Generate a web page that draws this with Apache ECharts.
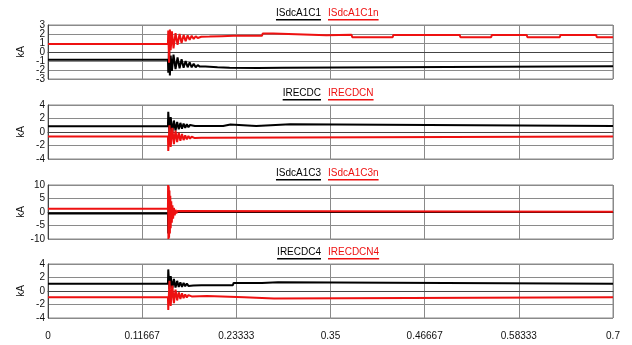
<!DOCTYPE html>
<html>
<head>
<meta charset="utf-8">
<script src="https://cdn.jsdelivr.net/npm/echarts@6/dist/echarts.min.js"></script>
<style>
  html, body { margin: 0; padding: 0; background: #fff; }
  #chart { width: 632px; height: 345px; }
</style>
</head>
<body>
<div id="chart"></div>
<script>
// Time axis (s) and its tick labels
const xMax = 0.7;
const xTickLabels = ['0', '0.11667', '0.23333', '0.35', '0.46667', '0.58333', '0.7'];

// Panel 1: ISdcA1C1 / ISdcA1C1n  [t, kA]
const ISdcA1C1 = [
  [0, -0.85], [0.1486, -0.85], [0.149, -2.3], [0.150, 0.4], [0.151, -2.6], [0.152, -0.4],
  [0.1535, -2.1], [0.1555, -0.3], [0.158, -1.9], [0.1605, -0.6], [0.163, -1.8], [0.1655, -0.8],
  [0.168, -1.75], [0.1705, -1.0], [0.173, -1.7], [0.1755, -1.15], [0.178, -1.7], [0.1805, -1.3],
  [0.183, -1.7], [0.1855, -1.45], [0.188, -1.62], [0.195, -1.6], [0.21, -1.7], [0.225, -1.75],
  [0.26, -1.77], [0.29, -1.75], [0.291, -1.57], [0.7, -1.57]
];
const ISdcA1C1n = [
  [0, 0.9], [0.1486, 0.9], [0.149, 2.4], [0.150, -1.2], [0.151, 2.5], [0.152, 0.2],
  [0.1535, 2.3], [0.1555, 0.4], [0.158, 2.1], [0.1605, 0.8], [0.163, 2.0], [0.1655, 1.0],
  [0.168, 1.9], [0.1705, 1.2], [0.173, 1.85], [0.1755, 1.35], [0.178, 1.8], [0.1805, 1.45],
  [0.183, 1.75], [0.1855, 1.55], [0.19, 1.7], [0.2, 1.72], [0.215, 1.76], [0.23, 1.8],
  [0.265, 1.8], [0.266, 2.05], [0.279, 2.05], [0.28, 1.85], [0.345, 1.85], [0.346, 1.92],
  [0.376, 1.92], [0.377, 1.65], [0.427, 1.65], [0.428, 1.9], [0.510, 1.9], [0.511, 1.65],
  [0.549, 1.65], [0.550, 1.9], [0.593, 1.9], [0.594, 1.65], [0.634, 1.65], [0.635, 1.9],
  [0.679, 1.9], [0.680, 1.65], [0.7, 1.65]
];

// Panel 2: IRECDC / IRECDCN
const IRECDC = [
  [0, 0.85], [0.1486, 0.85], [0.149, 3.0], [0.1505, -0.2], [0.152, 2.2], [0.154, 0.0],
  [0.156, 1.7], [0.158, 0.2], [0.160, 1.5], [0.162, 0.4], [0.164, 1.35], [0.166, 0.5],
  [0.168, 1.25], [0.170, 0.6], [0.172, 1.15], [0.174, 0.7], [0.176, 1.05], [0.178, 0.8],
  [0.182, 0.9], [0.217, 0.88], [0.218, 1.1], [0.226, 1.1], [0.227, 0.88], [0.258, 0.88],
  [0.259, 1.15], [0.30, 1.15], [0.301, 0.88], [0.7, 0.88]
];
const IRECDCN = [
  [0, -0.65], [0.1486, -0.65], [0.149, -2.8], [0.1505, 1.0], [0.152, -2.2], [0.154, 0.6],
  [0.156, -1.8], [0.158, 0.2], [0.160, -1.5], [0.162, -0.1], [0.164, -1.3], [0.166, -0.3],
  [0.168, -1.2], [0.170, -0.5], [0.172, -1.1], [0.174, -0.6], [0.176, -1.0], [0.178, -0.7],
  [0.182, -0.9], [0.19, -0.85], [0.198, -0.85], [0.199, -0.65], [0.7, -0.65]
];

// Panel 3: ISdcA1C3 / ISdcA1C3n
const ISdcA1C3 = [
  [0, -0.6], [0.1486, -0.6], [0.149, -8], [0.1495, 8], [0.150, -6], [0.151, 4],
  [0.152, -2], [0.153, 1], [0.155, 0], [0.7, 0]
];
const ISdcA1C3n = [
  [0, 1.2], [0.1486, 1.2], [0.1488, 10], [0.1492, -10], [0.1496, 9.5], [0.150, -9.5],
  [0.1505, 8], [0.151, -8], [0.1515, 6], [0.152, -6], [0.1527, 4], [0.1534, -4],
  [0.1542, 2.5], [0.155, -2.5], [0.156, 1.5], [0.157, -1.2], [0.158, 0.8], [0.159, -0.5],
  [0.1605, 0.4], [0.162, 0.1], [0.7, 0.1]
];

// Panel 4: IRECDC4 / IRECDCN4
const IRECDC4 = [
  [0, 1.07], [0.1486, 1.07], [0.149, 3.2], [0.1505, 0.3], [0.152, 2.2], [0.154, 0.4],
  [0.156, 1.8], [0.158, 0.5], [0.160, 1.5], [0.162, 0.6], [0.164, 1.3], [0.166, 0.6],
  [0.168, 1.2], [0.170, 0.7], [0.172, 1.1], [0.174, 0.75], [0.176, 1.0], [0.18, 0.8],
  [0.19, 0.85], [0.229, 0.85], [0.23, 1.2], [0.265, 1.2], [0.266, 1.3], [0.285, 1.3],
  [0.286, 1.07], [0.7, 1.07]
];
const IRECDCN4 = [
  [0, -0.92], [0.1486, -0.92], [0.149, -2.8], [0.1505, 1.5], [0.152, -2.2], [0.154, 0.8],
  [0.156, -1.8], [0.158, 0.2], [0.160, -1.4], [0.162, -0.2], [0.164, -1.2], [0.166, -0.35],
  [0.168, -1.05], [0.170, -0.5], [0.172, -0.95], [0.174, -0.6], [0.178, -0.8], [0.18, -0.73],
  [0.197, -0.73], [0.198, -0.92], [0.243, -0.92], [0.244, -1.1], [0.28, -1.1], [0.281, -0.92],
  [0.7, -0.92]
];

const panelNames = [
  ['ISdcA1C1', 'ISdcA1C1n'],
  ['IRECDC', 'IRECDCN'],
  ['ISdcA1C3', 'ISdcA1C3n'],
  ['IRECDC4', 'IRECDCN4']
];
const panelData = [
  [ISdcA1C1, ISdcA1C1n],
  [IRECDC, IRECDCN],
  [ISdcA1C3, ISdcA1C3n],
  [IRECDC4, IRECDCN4]
];
// y tick values per panel (kA)
const yTicks1 = [3, 2, 1, 0, -1, -2, -3];
const yTicks2 = [4, 2, 0, -2, -4];
const yTicks3 = [10, 5, 0, -5, -10];
const yTicks4 = [4, 2, 0, -2, -4];
const yTickSets = [yTicks1, yTicks2, yTicks3, yTicks4];

// Layout
const panelTops = [25, 105, 185, 264];
const panelHeight = 54;
const gridLeft = 48, gridRight = 19;
const BLACK = '#000000', RED = '#ee1111';
const FONT = '"Liberation Sans", Arial, sans-serif';

const chart = echarts.init(document.getElementById('chart'), null, { renderer: 'canvas' });

const grids = [], xAxes = [], yAxes = [], series = [], graphics = [];
const xInterval = xMax / 6;

const ctx = document.createElement('canvas').getContext('2d');
ctx.font = '10px ' + FONT;

panelTops.forEach((top, i) => {
  grids.push({ left: gridLeft, right: gridRight, top: top, height: panelHeight,
    show: true, borderColor: '#8a8a8a', borderWidth: 1, backgroundColor: '#fff' });
  xAxes.push({
    type: 'value', gridIndex: i, min: 0, max: xMax, interval: xInterval,
    axisLine: { show: true, lineStyle: { color: '#444', width: 1 } },
    axisTick: { show: false },
    axisLabel: {
      show: i === 3, margin: 13, fontSize: 10, fontFamily: FONT, color: '#111',
      showMinLabel: true, showMaxLabel: true,
      formatter: v => xTickLabels[Math.round(v / xInterval)] ?? ''
    },
    splitLine: { show: true, lineStyle: { color: '#8a8a8a', width: 1 } }
  });
  const ticks = yTickSets[i];
  const lo = ticks[ticks.length - 1], hi = ticks[0];
  yAxes.push({
    type: 'value', gridIndex: i, min: lo, max: hi, interval: ticks[0] - ticks[1],
    name: 'kA', nameLocation: 'middle', nameRotate: 90, nameGap: 22,
    nameTextStyle: { fontSize: 10, fontFamily: FONT, color: '#111' },
    axisLine: { show: true, lineStyle: { color: '#444', width: 1 } },
    axisTick: { show: false },
    // tick labels are placed below via the axis scale, so none get dropped when crowded
    axisLabel: { show: false },
    splitLine: { show: true, lineStyle: { color: '#8a8a8a', width: 1 } }
  });
  const cols = [BLACK, RED];
  panelData[i].forEach((d, k) => {
    series.push({
      type: 'line', name: panelNames[i][k], xAxisIndex: i, yAxisIndex: i,
      data: d, showSymbol: false, symbol: 'none', animation: false,
      lineStyle: { color: cols[k], width: 2 }, z: 2 + k
    });
  });

  // Panel caption: two underlined series names
  const ty = top - 11;
  const wB = ctx.measureText(panelNames[i][0]).width;
  const wR = ctx.measureText(panelNames[i][1]).width;
  const rightB = 321, leftR = 328;
  graphics.push(
    { type: 'text', left: rightB - wB, top: ty - 6,
      style: { text: panelNames[i][0], fill: BLACK, font: '10px ' + FONT } },
    { type: 'rect', shape: { x: rightB - wB, y: ty + 5, width: wB, height: 1.5 },
      style: { fill: BLACK } },
    { type: 'text', left: leftR, top: ty - 6,
      style: { text: panelNames[i][1], fill: RED, font: '10px ' + FONT } },
    { type: 'rect', shape: { x: leftR, y: ty + 5, width: wR, height: 1.5 },
      style: { fill: RED } }
  );
});

chart.setOption({
  animation: false,
  backgroundColor: '#ffffff',
  grid: grids, xAxis: xAxes, yAxis: yAxes, series: series,
  graphic: graphics
});

// y tick labels, positioned through each panel's y scale
const tickTexts = [];
yTickSets.forEach((ticks, i) => {
  ticks.forEach(v => {
    const py = chart.convertToPixel({ yAxisIndex: i }, v);
    tickTexts.push({
      type: 'text', x: gridLeft - 3, y: py,
      style: { text: String(v), fill: '#111', font: '10px ' + FONT,
               align: 'right', verticalAlign: 'middle' }
    });
  });
});
chart.setOption({ graphic: graphics.concat(tickTexts) });
</script>
</body>
</html>
